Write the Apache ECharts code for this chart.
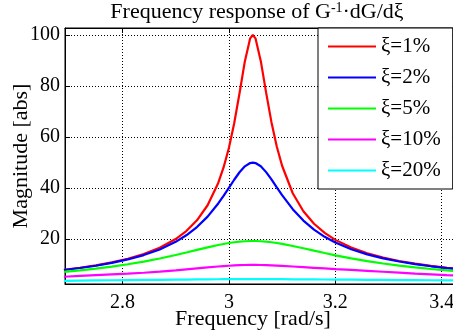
<!DOCTYPE html>
<html>
<head>
<meta charset="utf-8">
<script src="https://cdn.jsdelivr.net/npm/echarts@6/dist/echarts.min.js"></script>
<style>
  html, body { margin: 0; padding: 0; background: #fff; }
  #chart { width: 453px; height: 336px; }
</style>
</head>
<body>
<div id="chart"></div>
<script>
// Frequency grid [rad/s]
const freq = [2.69, 2.72, 2.75, 2.78, 2.81, 2.84, 2.87, 2.90, 2.92, 2.94, 2.96, 2.98,
              2.99, 3.00, 3.01, 3.02, 3.03, 3.04, 3.045, 3.05, 3.06, 3.07, 3.08, 3.09,
              3.10, 3.12, 3.14, 3.16, 3.18, 3.20, 3.23, 3.26, 3.29, 3.32, 3.35, 3.38,
              3.41, 3.44];

// |G^-1 dG/dxi| for each damping ratio
const xi1 = [8.02, 8.81, 9.75, 10.90, 12.34, 14.19, 16.65, 20.07, 23.20, 27.40, 33.30, 42.05,
             48.10, 55.75, 65.41, 77.16, 89.66, 98.68, 100.0, 98.68, 89.75, 77.41, 65.85, 56.33,
             48.77, 38.01, 30.95, 26.04, 22.46, 19.74, 16.71, 14.49, 12.80, 11.47, 10.40, 9.52,
             8.78, 8.15];
const xi2 = [7.94, 8.71, 9.61, 10.71, 12.07, 13.78, 16.00, 18.96, 21.53, 24.75, 28.84, 33.99,
             36.95, 40.11, 43.29, 46.23, 48.54, 49.83, 50.0, 49.83, 48.56, 46.28, 43.41, 40.32,
             37.26, 31.75, 27.28, 23.74, 20.93, 18.68, 16.05, 14.06, 12.50, 11.25, 10.24, 9.39,
             8.68, 8.07];
const xi5 = [7.21, 7.81, 8.49, 9.28, 10.19, 11.24, 12.45, 13.81, 14.79, 15.80, 16.79, 17.72,
             18.13, 18.50, 18.81, 19.04, 19.20, 19.29, 19.30, 19.29, 19.20, 19.05, 18.81, 18.52,
             18.17, 17.35, 16.44, 15.50, 14.58, 13.69, 12.48, 11.40, 10.47, 9.65, 8.94, 8.32,
             7.78, 7.31];
const xi10 = [5.3, 5.6, 5.9, 6.2, 6.5, 6.85, 7.3, 7.8, 8.2, 8.6, 8.95, 9.3,
              9.45, 9.6, 9.75, 9.85, 9.9, 9.95, 9.95, 9.95, 9.9, 9.85, 9.75, 9.65,
              9.55, 9.3, 9.05, 8.8, 8.55, 8.3, 7.95, 7.6, 7.25, 6.9, 6.55, 6.25,
              5.95, 5.7];
const xi20 = [3.7, 3.78, 3.85, 3.92, 3.98, 4.04, 4.1, 4.16, 4.2, 4.24, 4.28, 4.31,
              4.33, 4.34, 4.35, 4.36, 4.37, 4.37, 4.37, 4.37, 4.37, 4.36, 4.35, 4.34,
              4.33, 4.3, 4.27, 4.24, 4.21, 4.18, 4.13, 4.08, 4.04, 4.0, 3.96, 3.92,
              3.88, 3.85];

const seriesNames = ['ξ=1%', 'ξ=2%', 'ξ=5%', 'ξ=10%', 'ξ=20%'];
const seriesColors = ['#ff0000', '#0000ff', '#00ff00', '#ff00ff', '#00ffff'];
const magnitudes = [xi1, xi2, xi5, xi10, xi20];

const FONT = '"Liberation Serif", "Times New Roman", serif';
const X_MIN = 2.692, X_MAX = 3.44;
const Y_MIN = 2.45, Y_MAX = 102.74;

const chart = echarts.init(document.getElementById('chart'), null, { renderer: 'canvas' });

const series = magnitudes.map((vals, i) => ({
  name: seriesNames[i],
  type: 'line',
  xAxisIndex: 0,
  yAxisIndex: 0,
  data: freq.map((f, j) => [f, vals[j]]),
  symbol: 'none',
  smooth: false,
  lineStyle: { width: 2.2, color: seriesColors[i] },
  itemStyle: { color: seriesColors[i] },
  emphasis: { disabled: true }
}));

const dotted = { color: '#000', width: 1, type: [1, 2] };
const axisLineStyle = { show: true, onZero: false, lineStyle: { color: '#000', width: 1 } };
const tickStyle = { show: true, inside: true, length: 5, lineStyle: { color: '#000', width: 1 } };
const labelStyle = { color: '#000', fontFamily: FONT, fontSize: 20, showMinLabel: false, showMaxLabel: false };

chart.setOption({
  backgroundColor: '#fff',
  animation: false,
  title: {
    text: 'Frequency response of G{sup|-1}·dG/dξ',
    left: 257,
    top: 1,
    textAlign: 'center',
    padding: 0,
    textStyle: {
      fontFamily: FONT, fontSize: 22, fontWeight: 'normal', color: '#000',
      rich: { sup: { fontFamily: FONT, fontSize: 14, verticalAlign: 'top', lineHeight: 12 } }
    }
  },
  grid: {
    left: 65, top: 28, width: 398, height: 256,
    show: true, borderColor: '#000', borderWidth: 1, backgroundColor: '#fff',
    containLabel: false, outerBoundsMode: 'none'
  },
  legend: {
    orient: 'vertical',
    left: 318, top: 28,
    icon: 'rect',
    itemWidth: 48, itemHeight: 2, itemGap: 10,
    padding: [8, 12, 8, 10],
    backgroundColor: '#fff', borderColor: '#000', borderWidth: 1, borderRadius: 0,
    selectedMode: false,
    textStyle: { fontFamily: FONT, fontSize: 21, color: '#000', lineHeight: 20 },
    data: seriesNames
  },
  xAxis: [
    {
      type: 'value', position: 'bottom', min: X_MIN, max: X_MAX, splitNumber: 4,
      axisLine: axisLineStyle, axisTick: tickStyle,
      axisLabel: Object.assign({ margin: 9 }, labelStyle),
      splitLine: { show: true, lineStyle: dotted }
    },
    {
      type: 'value', position: 'top', min: X_MIN, max: X_MAX, splitNumber: 4,
      axisLine: axisLineStyle, axisTick: tickStyle,
      axisLabel: { show: false }, splitLine: { show: false }
    }
  ],
  yAxis: [
    {
      type: 'value', position: 'left', min: Y_MIN, max: Y_MAX, splitNumber: 5,
      axisLine: axisLineStyle, axisTick: tickStyle,
      axisLabel: Object.assign({ margin: 5 }, labelStyle),
      splitLine: { show: true, lineStyle: dotted }
    }
  ],
  graphic: [
    {
      type: 'text',
      x: 253, y: 319,
      style: { text: 'Frequency [rad/s]', fontFamily: FONT, fontSize: 22, fill: '#000',
               align: 'center', verticalAlign: 'middle' },
      z: 10
    },
    {
      type: 'text',
      x: 21, y: 156, rotation: Math.PI / 2,
      style: { text: 'Magnitude [abs]', fontFamily: FONT, fontSize: 22, fill: '#000',
               align: 'center', verticalAlign: 'middle' },
      z: 10
    }
  ],
  series: series
});
</script>
</body>
</html>
